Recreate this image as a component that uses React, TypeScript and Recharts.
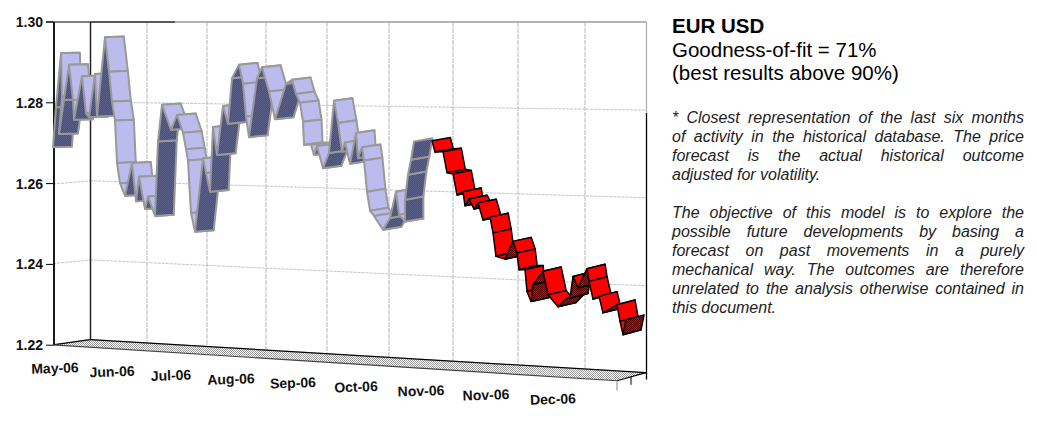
import { ComposedChart, Line, Area, XAxis, YAxis, ReferenceLine } from 'recharts';

const histX = [0, 3, 8, 9, 6, 11, 16, 20, 21, 29, 33, 36, 42, 44, 52, 56, 59, 62, 64, 67, 72, 79, 83, 86, 92, 95, 102, 105, 109, 118, 124, 130, 133, 135, 138, 142, 150, 153, 157, 160, 164, 170, 175, 179, 186, 190, 193, 196, 204, 209, 216, 222, 233, 239, 243, 247, 250, 251, 258, 261, 264, 270, 276, 281, 285, 289, 292, 297, 303, 305, 309, 311, 314, 317, 321, 330, 337, 343, 346, 352, 352, 355, 358, 361];
const histPrice = [1.269, 1.2789, 1.2923, 1.2815, 1.2723, 1.2807, 1.2894, 1.2807, 1.2758, 1.2866, 1.2774, 1.2764, 1.2871, 1.2766, 1.2962, 1.2877, 1.2803, 1.2756, 1.2651, 1.2601, 1.257, 1.2651, 1.2556, 1.2617, 1.2537, 1.2568, 1.252, 1.2704, 1.2795, 1.2733, 1.277, 1.2726, 1.2685, 1.2657, 1.2527, 1.2481, 1.2663, 1.2626, 1.258, 1.274, 1.2671, 1.2792, 1.2748, 1.2861, 1.2894, 1.2847, 1.2766, 1.2715, 1.2861, 1.2888, 1.2828, 1.2759, 1.2847, 1.2857, 1.2822, 1.28, 1.2753, 1.2696, 1.2696, 1.2671, 1.2693, 1.2638, 1.2676, 1.2805, 1.275, 1.2679, 1.2702, 1.2649, 1.2725, 1.2663, 1.269, 1.2657, 1.258, 1.2533, 1.252, 1.2486, 1.2515, 1.258, 1.2523, 1.2506, 1.256, 1.2622, 1.2659, 1.2704];
const forecastX = [379, 382, 390, 394, 400, 404, 410, 412, 416, 421, 425, 430, 437, 440, 443, 452, 460, 464, 466, 472, 474, 478, 480, 490, 495, 505, 513, 517, 520, 525, 534, 536, 540, 546, 550, 564, 567, 570, 573];
const forecastPrice = [1.2706, 1.2678, 1.2679, 1.2627, 1.2624, 1.2572, 1.258, 1.2545, 1.2562, 1.2537, 1.2552, 1.251, 1.2517, 1.2478, 1.242, 1.2413, 1.2457, 1.2428, 1.2387, 1.2387, 1.2333, 1.2308, 1.235, 1.2383, 1.2325, 1.2295, 1.2315, 1.2317, 1.237, 1.2342, 1.2389, 1.2358, 1.2314, 1.2321, 1.228, 1.23, 1.2259, 1.2226, 1.2263];

const monthLabels = ['May-06', 'Jun-06', 'Jul-06', 'Aug-06', 'Sep-06', 'Oct-06', 'Nov-06', 'Nov-06', 'Dec-06'];
const monthTicks = [2, 59, 118, 178, 240, 303, 368, 433, 500];
const priceTicks = [1.22, 1.24, 1.26, 1.28, 1.3];

// walls: level of each gridline at the left edge, the back corner and the right edge
const gridLeft = [1.2201, 1.2402, 1.2599, 1.28];
const gridCorner = [1.2214, 1.2411, 1.2607, 1.2802];
const gridRight = [1.2132, 1.2347, 1.2565, 1.2782];
const wallX = [94, 154, 213, 274, 336, 400, 465, 532];

const floorX = [0, 37, 564, 593];
const floorBack = [1.2201, 1.2214, 1.2136, 1.2132];
const floorFront = [1.2201, 1.2195, 1.2112, 1.2132];

const titleLines = ['Goodness-of-fit = 71%', '(best results above 90%)'];
const noteOne = [
  '* Closest representation of the last six months',
  'of activity in the historical database. The price',
  'forecast is the actual historical outcome',
  'adjusted for volatility.',
];
const noteTwo = [
  'The objective of this model is to explore the',
  'possible future developments by basing a',
  'forecast on past movements in a purely',
  'mechanical way. The outcomes are therefore',
  'unrelated to the analysis otherwise contained in',
  'this document.',
];

const histRows = histX.map((x, i) => ({ x, price: histPrice[i] }));
const forecastRows = forecastX.map((x, i) => ({ x, price: forecastPrice[i] }));
const floorRows = floorX.map((x, i) => ({ x, band: [floorFront[i], floorBack[i]] }));

const FONT = 'Arial, "Liberation Sans", sans-serif';

// one ribbon cell per step, light when the line falls and dark when it rises
const ribbonDot = (light: string, dark: string, edge: string, edgeWidth: number) => (props: any) => {
  const { index, points } = props;
  const a = points[index];
  const b = points[index + 1];
  if (!b) return <g key={`cell-${index}`} />;
  const depth = (p: any) => ({ x: p.x + 19 - (p.x / 640) * 1, y: p.y - (p.x / 640) * 5 });
  const a2 = depth(a);
  const b2 = depth(b);
  const d = `M${a.x},${a.y}L${a2.x},${a2.y}L${b2.x},${b2.y}L${b.x},${b.y}Z`;
  return (
    <path
      key={`cell-${index}`}
      d={d}
      fill={b.y > a.y ? light : dark}
      stroke={edge}
      strokeWidth={edgeWidth}
      strokeLinejoin="round"
    />
  );
};

const MonthTick = (props: any) => {
  const { x, index } = props;
  const y = 368 + (x - 55) * 0.0622;
  return (
    <text
      x={x}
      y={y}
      textAnchor="middle"
      dominantBaseline="central"
      transform={`rotate(-2 ${x} ${y})`}
      fontFamily={FONT}
      fontSize={14}
      fontWeight="bold"
      fill="#111"
    >
      {monthLabels[index]}
    </text>
  );
};

function Segment({ x1, y1, x2, y2, color, width = 1, dash }: any) {
  return (
    <ReferenceLine
      segment={[{ x: x1, y: y1 }, { x: x2, y: y2 }]}
      stroke={color}
      strokeWidth={width}
      strokeDasharray={dash}
      ifOverflow="visible"
    />
  );
}

export default function App() {
  const backFloor = (x: number) => floorBack[1] + ((x - floorX[1]) / (floorX[3] - floorX[1])) * (floorBack[3] - floorBack[1]);

  return (
    <div style={{ position: 'absolute', left: 0, top: 0, width: 1037, height: 440, background: '#fff', overflow: 'hidden' }}>
      <ComposedChart width={660} height={440} margin={{ top: 22, right: 7, bottom: 0, left: 0 }}>
        <defs>
          <pattern id="floorDither" width="2" height="2" patternUnits="userSpaceOnUse">
            <rect width="2" height="2" fill="#fff" />
            <rect width="1" height="1" fill="#999" />
            <rect x="1" y="1" width="1" height="1" fill="#999" />
          </pattern>
          <pattern id="lightDither" width="2" height="2" patternUnits="userSpaceOnUse">
            <rect width="2" height="2" fill="#a9c6f8" />
            <rect width="1" height="1" fill="#b9b9ec" />
            <rect x="1" y="1" width="1" height="1" fill="#b9b9ec" />
          </pattern>
          <pattern id="darkDither" width="2" height="2" patternUnits="userSpaceOnUse">
            <rect width="2" height="2" fill="#3f5572" />
            <rect width="1" height="1" fill="#5a6088" />
            <rect x="1" y="1" width="1" height="1" fill="#5a6088" />
          </pattern>
          <pattern id="redDither" width="2" height="2" patternUnits="userSpaceOnUse">
            <rect width="2" height="2" fill="#d00000" />
            <rect width="1" height="1" fill="#600000" />
            <rect x="1" y="1" width="1" height="1" fill="#600000" />
          </pattern>
        </defs>
        <XAxis
          type="number"
          dataKey="x"
          domain={[0, 600]}
          ticks={monthTicks}
          interval={0}
          axisLine={false}
          tickLine={false}
          height={14}
          tick={<MonthTick />}
        />
        <YAxis
          type="number"
          domain={[1.2, 1.3]}
          ticks={priceTicks}
          interval={0}
          width={53}
          axisLine={false}
          tickSize={7}
          tickMargin={3}
          tickLine={{ stroke: '#000' }}
          tickFormatter={(v: number) => v.toFixed(2)}
          tick={{ fontFamily: FONT, fontSize: 14, fontWeight: 'bold', fill: '#111' }}
        />

        {gridLeft.map((v, i) => Segment({ x1: 0, y1: v, x2: 37, y2: gridCorner[i], color: '#c4c4c4', dash: '3 1' }))}
        {gridCorner.map((v, i) => Segment({ x1: 37, y1: v, x2: 593, y2: gridRight[i], color: '#c4c4c4', dash: '3 1' }))}
        {wallX.map((x) => Segment({ x1: x, y1: 1.3, x2: x, y2: backFloor(x), color: '#c4c4c4', width: 1.2, dash: '5 1' }))}

        <Area
          data={floorRows}
          type="linear"
          dataKey="band"
          stroke="none"
          fill="url(#floorDither)"
          fillOpacity={1}
          dot={false}
          activeDot={false}
          isAnimationActive={false}
        />

        {Segment({ x1: 37, y1: 1.3, x2: 593, y2: 1.3, color: '#999', width: 1.5 })}
        {Segment({ x1: -7, y1: 1.3, x2: 122, y2: 1.3, color: '#000', width: 1.2 })}
        {Segment({ x1: 1, y1: 1.3, x2: 1, y2: floorFront[0], color: '#000', width: 1.8 })}
        {Segment({ x1: 37.5, y1: 1.3, x2: 37.5, y2: floorBack[1], color: '#222', width: 1.5 })}
        {Segment({ x1: 593.5, y1: 1.3, x2: 593.5, y2: 1.2775, color: '#aaa', width: 1.2 })}
        {Segment({ x1: 593.5, y1: 1.2775, x2: 593.5, y2: 1.2115, color: '#000', width: 1.3 })}
        {Segment({ x1: 0, y1: floorBack[0], x2: 37, y2: floorBack[1], color: '#000', width: 1.2 })}
        {Segment({ x1: 37, y1: floorBack[1], x2: 593, y2: floorBack[3], color: '#000', width: 1.2 })}
        {Segment({ x1: 0, y1: floorFront[0], x2: 564, y2: floorFront[2], color: '#444', width: 1.2 })}
        {Segment({ x1: 564, y1: floorFront[2], x2: 593, y2: floorFront[3], color: '#000', width: 1.2 })}
        {Segment({ x1: 564, y1: floorFront[2], x2: 564, y2: 1.2088, color: '#aaa', width: 1.4 })}
        {Segment({ x1: 578, y1: 1.2122, x2: 578, y2: 1.2102, color: '#000', width: 1 })}

        <Line
          data={histRows}
          dataKey="price"
          stroke="none"
          dot={ribbonDot('url(#lightDither)', 'url(#darkDither)', '#999', 2)}
          activeDot={false}
          isAnimationActive={false}
        />
        <Line
          data={forecastRows}
          dataKey="price"
          stroke="none"
          dot={ribbonDot('#ff0000', 'url(#redDither)', '#000', 1.5)}
          activeDot={false}
          isAnimationActive={false}
        />
      </ComposedChart>

      <div style={{ position: 'absolute', left: 672, top: 14, width: 352, fontFamily: FONT, color: '#000' }}>
        <div style={{ fontSize: 20.5, lineHeight: '23.5px', fontWeight: 'bold' }}>EUR USD</div>
        {titleLines.map((line) => (
          <div key={line} style={{ fontSize: 20.5, lineHeight: '23.5px' }}>{line}</div>
        ))}
        <div style={{ height: 23 }} />
        {noteOne.map((line, i) => (
          <div key={line} style={{ fontSize: 16, lineHeight: '19px', fontStyle: 'italic', textAlign: 'justify', textAlignLast: i < noteOne.length - 1 ? 'justify' : 'left', color: '#222' }}>{line}</div>
        ))}
        <div style={{ height: 19 }} />
        {noteTwo.map((line, i) => (
          <div key={line} style={{ fontSize: 16, lineHeight: '19px', fontStyle: 'italic', textAlign: 'justify', textAlignLast: i < noteTwo.length - 1 ? 'justify' : 'left', color: '#222' }}>{line}</div>
        ))}
      </div>
    </div>
  );
}
